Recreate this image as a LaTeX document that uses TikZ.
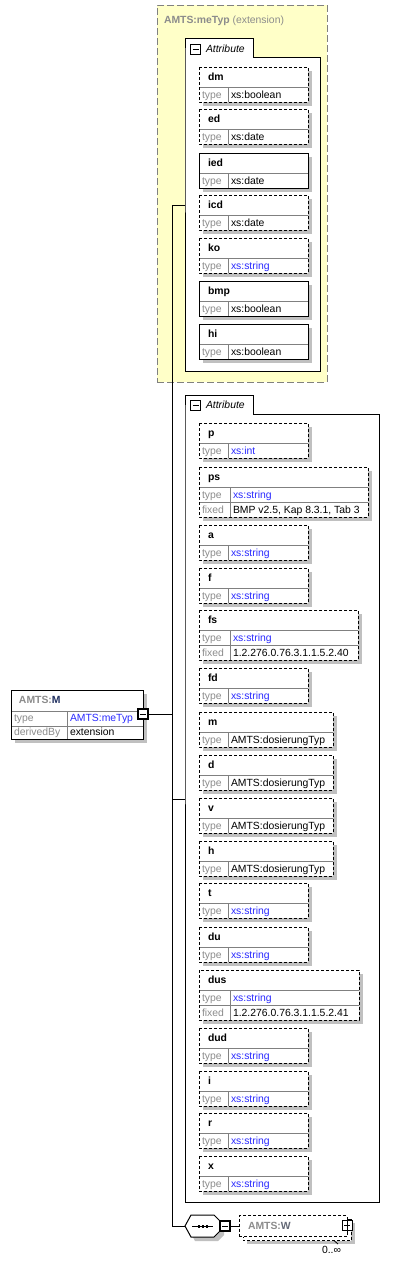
\documentclass[tikz,border=0pt]{standalone}
\usepackage{fontspec}
\setmainfont{Liberation Sans}
\definecolor{shadowc}{HTML}{C0C0C0}
\definecolor{grayt}{HTML}{8C8C8C}
\definecolor{divc}{HTML}{808080}
\definecolor{bluet}{HTML}{2B2BFF}
\definecolor{navyt}{HTML}{1F2F5F}
\definecolor{yellowf}{HTML}{FFFFC8}
\newcommand\attrbox[6]{%
  \fill[shadowc] (203,#2+4) rectangle (#3+4,#2+39);
  \fill[white] (199,#2) rectangle (#3,#2+35);
  \draw[divl] (199,#2+20) -- (#3,#2+20);
  \draw[divl] (228,#2+20) -- (228,#2+35);
  \draw[#1] (199,#2) rectangle (#3,#2+35);
  \coordinate (attr-#4) at (199,#2);
  \node[txt] at (208,#2+13.5) {\bfseries #4};
  \node[txt,text=grayt] at (202,#2+31) {type};
  \node[txt,text=#5] at (231,#2+31) {#6};
}
\newcommand\attrfix[6]{%
  \fill[shadowc] (203,#2+4) rectangle (#3+4,#2+54);
  \fill[white] (199,#2) rectangle (#3,#2+50);
  \draw[divl] (199,#2+20) -- (#3,#2+20);
  \draw[divl] (199,#2+35) -- (#3,#2+35);
  \draw[divl] (230,#2+20) -- (230,#2+50);
  \draw[#1] (199,#2) rectangle (#3,#2+50);
  \coordinate (attr-#4) at (199,#2);
  \node[txt] at (208,#2+13.5) {\bfseries #4};
  \node[txt,text=grayt] at (202,#2+31) {type};
  \node[txt,text=bluet] at (233,#2+31) {#5};
  \node[txt,text=grayt] at (202,#2+46) {fixed};
  \node[txt] at (233,#2+46) {#6};
}
\begin{document}
\begin{tikzpicture}[x=1pt,y=-1pt,line width=1pt,
  font=\fontsize{10.4}{12.5}\selectfont,
  txt/.style={anchor=base west,inner sep=0pt,outer sep=0pt},
  dbox/.style={draw=black,dash pattern=on 3pt off 2pt},
  sbox/.style={draw=black},
  divl/.style={draw=divc,line width=0.8pt},
  minusbox/.style={draw=black,fill=white,minimum size=10pt,inner sep=0pt,outer sep=0pt,line width=1.2pt},
  body/.style={anchor=north west,inner sep=0pt,outer sep=0pt},
]
\useasboundingbox (0,0) rectangle (404,1261);

% extension (yellow) box
\node[body,draw=divc,dash pattern=on 7pt off 3pt,fill=yellowf,minimum width=170pt,minimum height=377pt] (ext) at (157,5) {};
\node[txt,text=grayt] at (164,23) {\bfseries AMTS:meTyp\mdseries\ (extension)};

% group 1
\path node[body,minimum width=135pt,minimum height=314pt] (grp1) at (185,57) {};
\draw[fill=white] (grp1.south west) -- (grp1.north west) -- ++(0,-19) -- ++(68,0) -- ++(0,19) -- (grp1.north east) -- (grp1.south east) -- cycle;
\node[minusbox,line width=1pt] (g1m) at (195.5,49) {};
\draw ([xshift=2pt]g1m.west) -- ([xshift=-2pt]g1m.east);
\node[txt] at (206,52) {\itshape Attribute};

\attrbox{dbox}{67}{308}{dm}{black}{xs:boolean}
\attrbox{dbox}{109}{308}{ed}{black}{xs:date}
\attrbox{sbox}{153}{308}{ied}{black}{xs:date}
\attrbox{dbox}{195}{308}{icd}{black}{xs:date}
\attrbox{dbox}{238}{308}{ko}{bluet}{xs:string}
\attrbox{sbox}{281}{308}{bmp}{black}{xs:boolean}
\attrbox{sbox}{324}{308}{hi}{black}{xs:boolean}

% group 2
\path node[body,minimum width=194pt,minimum height=788pt] (grp2) at (185,414) {};
\draw[fill=white] (grp2.south west) -- (grp2.north west) -- ++(0,-19) -- ++(68,0) -- ++(0,19) -- (grp2.north east) -- (grp2.south east) -- cycle;
\node[minusbox,line width=1pt] (g2m) at (195.5,405) {};
\draw ([xshift=2pt]g2m.west) -- ([xshift=-2pt]g2m.east);
\node[txt] at (206,408.5) {\itshape Attribute};

\attrbox{dbox}{423}{308}{p}{bluet}{xs:int}
\attrfix{dbox}{467}{368}{ps}{xs:string}{BMP v2.5, Kap 8.3.1, Tab 3}
\attrbox{dbox}{525}{308}{a}{bluet}{xs:string}
\attrbox{dbox}{568}{308}{f}{bluet}{xs:string}
\attrfix{dbox}{610}{358}{fs}{xs:string}{1.2.276.0.76.3.1.1.5.2.40}
\attrbox{dbox}{668}{308}{fd}{bluet}{xs:string}
\attrbox{dbox}{712}{333}{m}{black}{AMTS:dosierungTyp}
\attrbox{dbox}{755}{333}{d}{black}{AMTS:dosierungTyp}
\attrbox{dbox}{798}{333}{v}{black}{AMTS:dosierungTyp}
\attrbox{dbox}{841}{333}{h}{black}{AMTS:dosierungTyp}
\attrbox{dbox}{883}{308}{t}{bluet}{xs:string}
\attrbox{dbox}{927}{308}{du}{bluet}{xs:string}
\attrfix{dbox}{970}{359}{dus}{xs:string}{1.2.276.0.76.3.1.1.5.2.41}
\attrbox{dbox}{1028}{308}{dud}{bluet}{xs:string}
\attrbox{dbox}{1071}{308}{i}{bluet}{xs:string}
\attrbox{dbox}{1113}{308}{r}{bluet}{xs:string}
\attrbox{dbox}{1156}{308}{x}{bluet}{xs:string}

% AMTS:M element
\fill[shadowc] (15,694) rectangle (147,743);
\node[body,draw=black,fill=white,minimum width=132pt,minimum height=49pt] (M) at (11,690) {};
\draw[divl] (11,711) -- (143,711);
\draw[divl] (11,726) -- (143,726);
\draw[divl] (67,711) -- (67,739);
\draw (M.north west) rectangle (M.south east);
\node[txt] at (19,703.5) {\bfseries\color{grayt}AMTS:\color{navyt}M};
\node[txt,text=grayt] at (14,721) {type};
\node[txt,text=bluet] at (70,721) {AMTS:meTyp};
\node[txt,text=grayt] at (14,735.5) {derivedBy};
\node[txt] at (70,735.5) {extension};
\node[minusbox] (mM) at (143,714) {};
\draw ([xshift=2pt]mM.west) -- ([xshift=-2pt]mM.east);

% sequence compositor
\fill[shadowc] (189,1230) -- (195,1219) -- (218,1219) -- (224,1225) -- (224,1235) -- (218,1241) -- (195,1241) -- cycle;
\draw[fill=white] (185,1226) -- (191,1215) -- (214,1215) -- (220,1221) -- (220,1231) -- (214,1237) -- (191,1237) -- cycle;
\coordinate (seq) at (185,1226);
\draw (192,1226) -- (213,1226);
\fill (197.5,1224.5) rectangle (200,1227.5);
\fill (201.5,1224.5) rectangle (204,1227.5);
\fill (205.5,1224.5) rectangle (208,1227.5);
\node[minusbox] (mS) at (225,1226) {};
\draw ([xshift=2pt]mS.west) -- ([xshift=-2pt]mS.east);

% AMTS:W element
\fill[shadowc] (247,1223) rectangle (355,1244);
\draw[dbox,fill=white] (243,1219.5) rectangle (351,1240.5);
\node[body,dbox,fill=white,minimum width=108pt,minimum height=21pt] (W) at (239,1215.5) {};
\node[txt] at (248,1229.5) {\bfseries\color{grayt}AMTS:\color{divc!70!navyt}W};
\node[minusbox,line width=1pt] (pW) at (347,1225) {};
\draw ([xshift=2pt]pW.west) -- ([xshift=-2pt]pW.east);
\draw ([yshift=2pt]pW.north) -- ([yshift=-2pt]pW.south);
\draw[line width=0.8pt] (334,1240.5) -- (338,1244);
\node[txt] at (322,1253) {0..∞};

% connectors
\coordinate (trunkTop) at (172,205);
\coordinate (trunkM) at (172,714);
\coordinate (trunkG2) at (172,799);
\coordinate (trunkBot) at (172,1226);
\draw (grp1.west |- trunkTop) -- (trunkTop) -- (trunkBot) -- (seq);
\draw (mM.east) -- (trunkM);
\draw (trunkG2) -- (trunkG2 -| grp2.west);
\draw (mS.east) -- (W.west |- mS);
\end{tikzpicture}
\end{document}
